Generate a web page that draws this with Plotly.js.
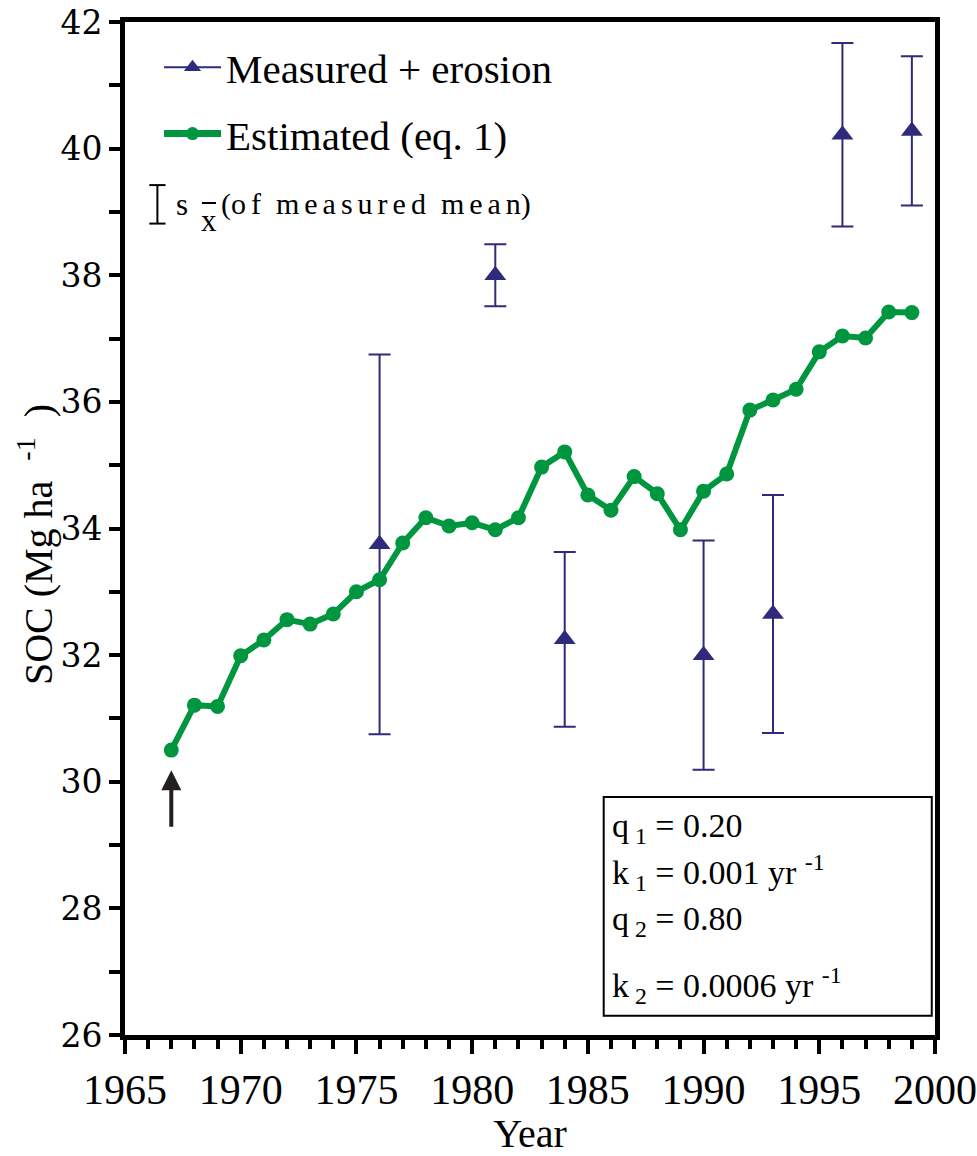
<!DOCTYPE html>
<html>
<head>
<meta charset="utf-8">
<script src="https://cdn.plot.ly/plotly-3.0.1.min.js"></script>
<style>html,body{margin:0;padding:0;background:#fff;}#chart{width:977px;height:1156px;}</style>
</head>
<body>
<div id="chart"></div>
<script>
// Estimated SOC (eq. 1), yearly
const estYears = [1967,1968,1969,1970,1971,1972,1973,1974,1975,1976,1977,1978,1979,1980,1981,1982,1983,1984,1985,1986,1987,1988,1989,1990,1991,1992,1993,1994,1995,1996,1997,1998,1999];
const estSOC   = [30.50,31.21,31.19,31.99,32.24,32.56,32.49,32.65,33.00,33.19,33.77,34.17,34.04,34.09,33.98,34.17,34.97,35.21,34.53,34.29,34.82,34.55,33.98,34.59,34.86,35.87,36.03,36.20,36.79,37.04,37.01,37.42,37.41];
// Measured + erosion
const measYears = [1976,1981,1984,1990,1993,1996,1999];
const measSOC   = [33.75,38.00,32.25,32.00,32.65,40.22,40.28];
const measErr   = [3.00,0.49,1.38,1.81,1.88,1.45,1.18];
// Axis ticks
const yTicks = [26,28,30,32,34,36,38,40,42];
const xTicks = [1965,1970,1975,1980,1985,1990,1995,2000];

const NAVY = '#2f2a7c', GREEN = '#00963f', SERIF = 'Liberation Serif';
const SP = '\u2006', WS = '\u2002';
const spaced = s => s.split('').join(SP);

const traces = [
  {x: measYears, y: measSOC, type:'scatter', mode:'markers', showlegend:false,
   marker:{symbol:'triangle-up', size:19, color:NAVY},
   error_y:{type:'data', array:measErr, visible:true, color:NAVY, thickness:2, width:11}},
  {x: estYears, y: estSOC, type:'scatter', mode:'lines+markers', showlegend:false,
   line:{color:GREEN, width:6}, marker:{symbol:'circle', size:15, color:GREEN}},
  {x:[null], y:[null], type:'scatter', mode:'lines+markers', name:'Measured + erosion', legendgroup:'a',
   line:{color:NAVY, width:2}, marker:{symbol:'triangle-up', size:15, color:NAVY}},
  {x:[null], y:[null], type:'scatter', mode:'lines+markers', name:'Estimated (eq. 1)', legendgroup:'b',
   line:{color:GREEN, width:7}, marker:{symbol:'circle', size:13, color:GREEN}}
];

const boxFont = {family:SERIF, size:34, color:'#000'};
const layout = {
  width:977, height:1156,
  margin:{l:125, r:42, t:22, b:121, pad:0},
  paper_bgcolor:'#fff', plot_bgcolor:'#fff',
  font:{family:SERIF, color:'#000'},
  showlegend:true,
  legend:{x:0.042, y:0.988, xanchor:'left', yanchor:'top', bgcolor:'rgba(0,0,0,0)',
          font:{family:SERIF, size:41, color:'#000'}, itemwidth:57, traceorder:'grouped', tracegroupgap:10},
  xaxis:{range:[1965,2000], tickvals:xTicks, ticktext:xTicks.map(String), showgrid:false, zeroline:false,
         showline:true, linewidth:5, linecolor:'#000', mirror:true,
         ticks:'outside', ticklen:14, tickwidth:4, tickcolor:'#000',
         minor:{dtick:1, tick0:1965, ticks:'outside', ticklen:9, tickwidth:4, tickcolor:'#000', showgrid:false},
         tickfont:{family:SERIF, size:42, color:'#000'},
         title:{text:'Year', font:{family:SERIF, size:40, color:'#000'}, standoff:10}},
  yaxis:{range:[26,42], tickvals:yTicks, ticktext:yTicks.map(String), showgrid:false, zeroline:false,
         showline:true, linewidth:5, linecolor:'#000', mirror:true,
         ticks:'outside', ticklen:11, tickwidth:4, tickcolor:'#000',
         minor:{dtick:1, tick0:26, ticks:'outside', ticklen:11, tickwidth:4, tickcolor:'#000', showgrid:false},
         tickfont:{family:'DejaVu Serif', size:33, color:'#000'}},
  shapes:[
    {type:'rect', xref:'paper', yref:'paper', x0:0.591, x1:0.996, y0:0.019, y1:0.235, line:{color:'#000', width:2}, fillcolor:'rgba(0,0,0,0)'},
    {type:'line', xref:'paper', yref:'paper', x0:0.040, x1:0.040, y0:0.801, y1:0.839, line:{color:'#000', width:2}},
    {type:'line', xref:'paper', yref:'paper', x0:0.030, x1:0.050, y0:0.801, y1:0.801, line:{color:'#000', width:2}},
    {type:'line', xref:'paper', yref:'paper', x0:0.030, x1:0.050, y0:0.839, y1:0.839, line:{color:'#000', width:2}},
    {type:'line', xref:'paper', yref:'paper', x0:0.095, x1:0.1123, y0:0.8213, y1:0.8213, line:{color:'#000', width:2}}
  ],
  annotations:[
    {xref:'paper', yref:'paper', x:-0.111, y:0.4837, xanchor:'center', yanchor:'middle', showarrow:false, textangle:-90,
     text:'SOC (Mg ha  <sup>-1</sup>  )', font:{family:SERIF, size:40, color:'#000'}},
    {xref:'paper', yref:'paper', x:0.0605, y:0.820, xanchor:'left', yanchor:'middle', showarrow:false,
     text:'s', font:{family:SERIF, size:31, color:'#000'}},
    {xref:'paper', yref:'paper', x:0.1037, y:0.8036, xanchor:'center', yanchor:'middle', showarrow:false,
     text:'x', font:{family:SERIF, size:31, color:'#000'}},
    {xref:'paper', yref:'paper', x:0.1160, y:0.820, xanchor:'left', yanchor:'middle', showarrow:false,
     text:'(' + spaced('of') + WS + spaced('measured') + WS + spaced('mean') + ')', font:{family:SERIF, size:30, color:'#000'}},
    {xref:'paper', yref:'paper', x:0.599, y:0.204, xanchor:'left', yanchor:'middle', showarrow:false, text:'q<sub> 1</sub> = 0.20', font:boxFont},
    {xref:'paper', yref:'paper', x:0.599, y:0.160, xanchor:'left', yanchor:'middle', showarrow:false, text:'k<sub> 1</sub> = 0.001 yr <sup>-1</sup>', font:boxFont},
    {xref:'paper', yref:'paper', x:0.599, y:0.113, xanchor:'left', yanchor:'middle', showarrow:false, text:'q<sub> 2</sub> = 0.80', font:boxFont},
    {xref:'paper', yref:'paper', x:0.599, y:0.049, xanchor:'left', yanchor:'middle', showarrow:false, text:'k<sub> 2</sub> = 0.0006 yr <sup>-1</sup>', font:boxFont},
    {x:1967, y:30.18, xref:'x', yref:'y', ax:0, ay:58, showarrow:true, arrowhead:2, arrowsize:1, arrowwidth:4, arrowcolor:'#231f20', text:''}
  ]
};

Plotly.newPlot('chart', traces, layout, {displayModeBar:false, staticPlot:true});
</script>
</body>
</html>
